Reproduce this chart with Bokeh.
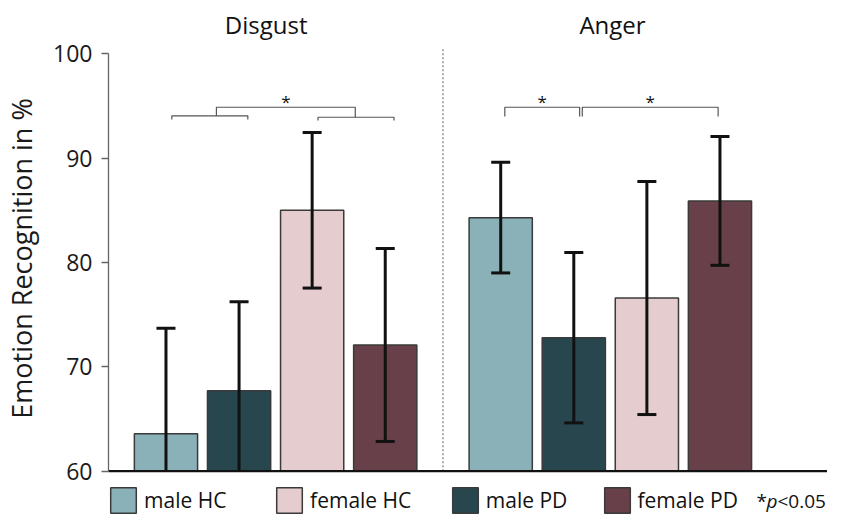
from bokeh.plotting import figure
from bokeh.models import Range1d, FixedTicker, Span, Legend, LegendItem, Label, ColumnDataSource
from bokeh.core.properties import value
from bokeh.embed import file_html
from bokeh.resources import INLINE

# ---------------- data ----------------
emotions = ["Disgust", "Anger"]
groups = ["male HC", "male PD", "female HC", "female PD"]
legend_order = ["male HC", "female HC", "male PD", "female PD"]
group_colors = ["#8ab0b8", "#28464e", "#e4cccf", "#67404a"]
disgust_mean = [63.6, 67.7, 85.0, 72.1]
disgust_sd = [10.1, 8.55, 7.45, 9.25]
anger_mean = [84.3, 72.8, 76.6, 85.9]
anger_sd = [5.3, 8.17, 11.17, 6.17]
y_ticks = [60, 70, 80, 90, 100]
y_label = "Emotion Recognition in %"
sig_text = ["*", "p", "<0.05"]

# ---------------- layout ----------------
FONT = "Open Sans"
group_start = [0.0, 4.58]          # slot position of the first bar of each emotion
bar_w = 0.865
y_floor = 60
means = [disgust_mean, anger_mean]
sds = [disgust_sd, anger_sd]

p = figure(width=827, height=516,
           x_range=Range1d(-0.7865, 9.0514), y_range=Range1d(55.659, 105.108),
           output_backend="svg", toolbar_location=None, x_axis_location=None,
           min_border_left=99, min_border_right=0, min_border_top=0, min_border_bottom=0)
p.outline_line_color = None
p.grid.visible = False
p.background_fill_color = "white"

# y axis
ax = p.yaxis[0]
ax.ticker = FixedTicker(ticks=y_ticks)
ax.bounds = (60, 100)
ax.axis_line_color = "#666666"
ax.axis_line_width = 1.3
ax.major_tick_line_color = "#666666"
ax.major_tick_line_width = 1.3
ax.major_tick_in = 0
ax.major_tick_out = 7
ax.minor_tick_line_color = None
ax.major_label_text_font = FONT
ax.major_label_text_font_size = "23px"
ax.major_label_text_color = "#1a1a1a"
ax.major_label_standoff = 9
ax.axis_label = y_label
ax.axis_label_text_font = FONT
ax.axis_label_text_font_size = "27px"
ax.axis_label_text_font_style = "normal"
ax.axis_label_text_color = "#1a1a1a"
ax.axis_label_standoff = 10

# baseline
p.add_layout(Span(location=y_floor, dimension="width", line_color="#111111", line_width=2.2))

# separator between emotions
sep_x = (group_start[0] + len(groups) - 1 + group_start[1]) / 2
p.segment(x0=[sep_x], y0=[y_floor], x1=[sep_x], y1=[100.57], line_color="#777777",
          line_width=1.2, line_dash="2 2")

# bars
renderers = {}
for i, g in enumerate(groups):
    xs = [group_start[e] + i for e in range(len(emotions))]
    tops = [means[e][i] for e in range(len(emotions))]
    src = ColumnDataSource(dict(x=xs, top=tops))
    renderers[g] = p.vbar(x="x", top="top", bottom=y_floor, width=bar_w, source=src,
                          fill_color=group_colors[i], line_color="#3a3a3a", line_width=1.5)

# error bars
cap = 0.26
sx, sy0, sy1 = [], [], []
cx0, cx1, cy = [], [], []
for e in range(len(emotions)):
    for i in range(len(groups)):
        x = group_start[e] + i
        hi = means[e][i] + sds[e][i]
        lo = means[e][i] - sds[e][i]
        sx.append(x); sy0.append(max(lo, y_floor)); sy1.append(hi)
        cx0.append(x - cap / 2); cx1.append(x + cap / 2); cy.append(hi)
        if lo >= y_floor:
            cx0.append(x - cap / 2); cx1.append(x + cap / 2); cy.append(lo)
p.segment(x0=sx, y0=sy0, x1=sx, y1=sy1, line_color="#111111", line_width=3)
p.segment(x0=cx0, y0=cy, x1=cx1, y1=cy, line_color="#111111", line_width=3)

# significance brackets
br_xs, br_ys, star_x, star_y = [], [], [], []
d0, a0 = group_start
# Disgust: male pair, female pair, joined by an upper bracket
lp = (d0 + 0.08, d0 + 1.12, 94.06, 93.70)
rp = (d0 + 2.08, d0 + 3.12, 93.92, 93.61)
for x0, x1, top, bot in (lp, rp):
    br_xs.append([x0, x0, x1, x1]); br_ys.append([bot, top, top, bot])
ux0, ux1, utop = d0 + 0.69, d0 + 2.59, 94.88
br_xs.append([ux0, ux0, ux1, ux1]); br_ys.append([lp[2], utop, utop, rp[2]])
star_x.append((ux0 + ux1) / 2); star_y.append(utop)
# Anger: male HC vs male PD, male PD vs female PD
for x0, x1 in ((a0 + 0.056, a0 + 1.08), (a0 + 1.116, a0 + 2.975)):
    br_xs.append([x0, x0, x1, x1]); br_ys.append([93.99, 94.88, 94.88, 93.99])
    star_x.append((x0 + x1) / 2); star_y.append(94.88)
p.multi_line(xs=br_xs, ys=br_ys, line_color="#555555", line_width=1.2)
p.text(x=star_x, y=[s + 0.54 for s in star_y], text=["*"] * len(star_x),
       text_font=value(FONT), text_font_size="17px", text_align="center",
       text_baseline="alphabetic", text_color="#111111")

# emotion titles
title_x = [group_start[0] + 1.5 - 0.13, group_start[1] + 1.5 + 0.03]
p.text(x=title_x, y=[102.77, 102.77], text=emotions, text_font=value(FONT),
       text_font_size="24px", text_align="center", text_baseline="alphabetic",
       text_color="#111111")

# legend: one entry per box, placed where the reference puts them
legend_sq_left = [109.3, 275.3, 451.0, 602.7]   # page px of each swatch
frame_left = 107
for g, sq in zip(legend_order, legend_sq_left):
    lg = Legend(items=[LegendItem(label=g, renderers=[renderers[g]])],
                orientation="horizontal", location=(sq - 3.2 - frame_left, 0),
                glyph_width=32, glyph_height=32, label_height=32, label_standoff=5,
                spacing=0, padding=0, margin=0, border_line_color=None,
                background_fill_alpha=0, label_text_font=FONT,
                label_text_font_size="21px", label_text_color="#111111")
    p.add_layout(lg)

sig_x = [648, 658, 669]
sig_style = ["normal", "italic", "normal"]
for t, x, st in zip(sig_text, sig_x, sig_style):
    p.add_layout(Label(x=x, y=16, x_units="screen", y_units="screen", text=t,
                       text_font=FONT, text_font_size="19px", text_font_style=st,
                       text_color="#111111", text_baseline="middle"))

open("out.html", "w").write(file_html(p, INLINE))
